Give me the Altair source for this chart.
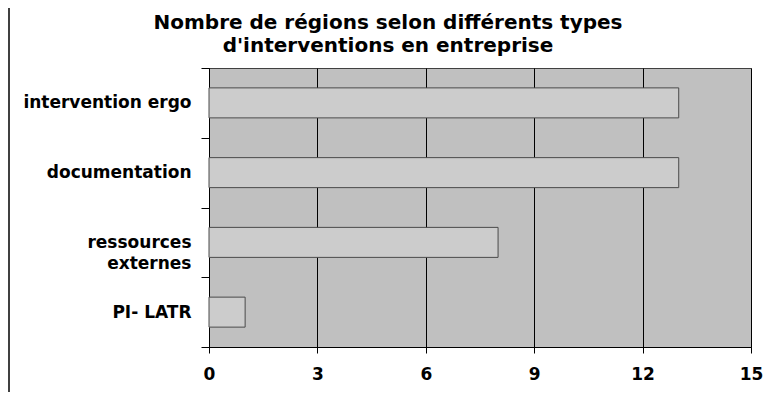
import altair as alt
import pandas as pd

categories = ["intervention ergo", "documentation", "ressources\nexternes\u00a0\u00a0", "PI- LATR"]
values = [13, 13, 8, 1]
x_ticks = [0, 3, 6, 9, 12, 15]
title_lines = ["Nombre de régions selon différents types", "d'interventions en entreprise"]

df = pd.DataFrame({"type": categories, "n": values})

FONT = "DejaVu Sans"

bars = alt.Chart(df).mark_bar(
    size=30, fill="#CCCCCC", stroke="#4a4a4a", strokeWidth=1
).encode(
    x=alt.X(
        "n:Q",
        scale=alt.Scale(domain=[0, 15], nice=False, zero=True),
        axis=alt.Axis(
            values=x_ticks, title=None, grid=True, gridColor="black", gridOpacity=1,
            gridWidth=1, domainColor="black", domainWidth=1, tickColor="black",
            tickSize=6, labelPadding=13, labelFont=FONT, labelFontSize=17,
            labelFontWeight="bold", labelColor="black", labelFlush=False,
            labelOverlap=False,
        ),
    ),
    y=alt.Y(
        "type:N",
        sort=categories,
        scale=alt.Scale(paddingInner=0, paddingOuter=0),
        axis=alt.Axis(
            title=None, tickBand="extent", tickSize=8, tickColor="black",
            domainColor="black", domainWidth=1, labelPadding=10,
            labelExpr="isValid(datum.value) ? split(datum.value, '\\n') : ''",
            labelLineHeight=21,
            labelFont=FONT, labelFontSize=17, labelFontWeight="bold",
            labelColor="black", grid=False, labelBaseline="middle",
        ),
    ),
)

border = alt.Chart(pd.DataFrame({"a": [0]})).mark_rule(
    color="black", strokeWidth=1.5
).encode(x=alt.value(-200), y=alt.value(-60), y2=alt.value(400))

chart = alt.layer(bars, border).properties(
    width=542,
    height=279,
    padding={"left": 201, "top": 60, "right": 17, "bottom": 45},
    autosize=alt.AutoSizeParams(type="none"),
    title=alt.TitleParams(
        text=title_lines, anchor="middle", dx=-92, offset=-49, fontSize=20,
        font=FONT, fontWeight="bold", color="black", lineHeight=23,
    ),
).configure_view(
    fill="#C0C0C0", stroke="#404040", strokeWidth=1
).configure_axis(
    labelFont=FONT
)

chart.save("out.html", embed_options={"renderer": "svg", "actions": False})
